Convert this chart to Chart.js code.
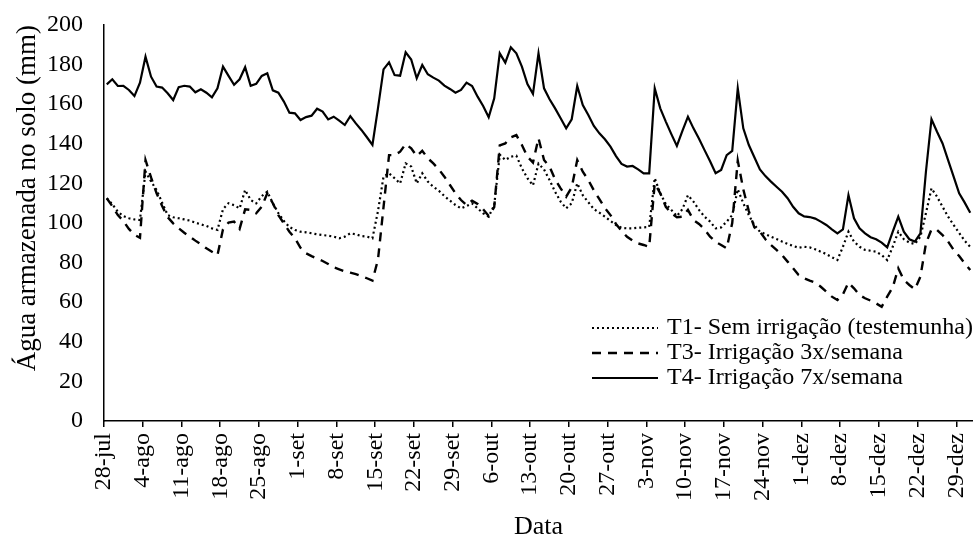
<!DOCTYPE html>
<html lang="pt">
<head>
<meta charset="utf-8">
<title>Água armazenada no solo</title>
<script src="https://cdn.jsdelivr.net/npm/chart.js@4.4.1/dist/chart.umd.min.js"></script>
<style>
  html, body { margin: 0; padding: 0; background: #fff; }
  #grafico { display: block; }
</style>
</head>
<body>
<canvas id="grafico" width="973" height="538"></canvas>
<script>
// Rótulos do eixo X (uma marca a cada 7 dias, começando em 28-jul)
const rotulosDatas = ["28-jul", "4-ago", "11-ago", "18-ago", "25-ago", "1-set", "8-set", "15-set",
  "22-set", "29-set", "6-out", "13-out", "20-out", "27-out", "3-nov", "10-nov", "17-nov",
  "24-nov", "1-dez", "8-dez", "15-dez", "22-dez", "29-dez"];

// Valores diários (mm), de 28-jul a 31-dez
const t1SemIrrigacao = [112.5, 109.5, 105.7, 103.5, 102.4, 101.8, 101.5, 126, 121, 116.7,
  110.3, 104, 102.9, 102.4, 101.8, 101.2, 100.2, 99.3, 98.5, 97.3,
  96.5, 107, 110, 109, 107.4, 116.7, 111.6, 109.9, 113.6, 115.8,
  110, 105, 101, 98, 96.5, 95.6, 95.3, 94.8, 94.3, 93.9,
  93.6, 93.1, 92.3, 93.1, 94.8, 94.3, 93.4, 93.1, 92.3, 106,
  123.4, 125.1, 122.6, 120, 130.1, 128.5, 120, 125.1, 120.9, 118.3,
  116.3, 113.6, 111.3, 109.1, 107.4, 108.6, 109.9, 107.4, 104.9, 103.2,
  109, 134.5, 131.8, 133.5, 134, 127.6, 122.6, 119, 130, 127,
  121.7, 115.8, 110.8, 107.4, 110, 120, 114, 110.5, 107, 105.2,
  103.2, 101, 99, 97.6, 97.3, 97.3, 97.6, 97.8, 98, 122.6,
  115, 109.6, 106.6, 103.5, 107, 114, 110.8, 106.6, 103.2, 100.7,
  97.3, 97.8, 100.7, 104, 117, 110, 104, 99, 95.6, 94.4,
  93.1, 91.9, 90.6, 89.4, 88.4, 87.5, 88, 87.7, 86.7, 85.5,
  84.3, 82.7, 81.3, 88, 95.6, 90.6, 88, 86.4, 86, 85.5,
  83.8, 81.3, 88, 95.6, 91.8, 90.1, 89.4, 93.1, 105, 117.5,
  113.3, 108.2, 103.2, 99, 95, 91, 88];

const t3Irrigacao3x = [112.5, 108.5, 104, 101, 97, 94, 92.5, 131.8, 123, 115,
  108.6, 103, 99.8, 97.3, 95.1, 93.1, 91.1, 89.2, 87.2, 85.5,
  83.8, 96.8, 100.2, 100.7, 97, 106.9, 106.6, 104.9, 108.2, 115,
  110, 104, 99.8, 95.6, 92.3, 87.5, 84.7, 83.3, 82, 80.8,
  79.3, 77.6, 76.6, 75.6, 74.9, 74.2, 73.2, 72.1, 70.9, 81.5,
  108, 134.3, 134.3, 136, 139.9, 137.7, 133.8, 136.5, 132.7, 130.1,
  127.1, 123.4, 119.2, 115, 111.6, 109.1, 111.3, 109.6, 106.9, 103.5,
  108, 139.2, 140.2, 143.3, 144.4, 139.4, 133.5, 130.5, 142.8, 131.8,
  128.5, 122.1, 117.5, 113.3, 118, 131.8, 125.9, 121.7, 116.5, 112,
  107.5, 104, 99.5, 96, 93, 91.1, 89.7, 88.9, 88, 120,
  115, 108.2, 104.9, 102.9, 103.2, 106.6, 101.5, 99.5, 96.8, 93.1,
  90.5, 88.9, 87.2, 100, 131.5, 117, 106, 97.8, 95.6, 91.8,
  88.9, 86.4, 83.8, 80.5, 77.1, 73.7, 72.1, 70.9, 69.9, 67.8,
  65.3, 62.8, 61.1, 64, 69.9, 67, 63.6, 62, 60.8, 59.4,
  57.7, 62.8, 67.5, 77.1, 71.2, 68.7, 66.5, 72.9, 89.7, 96.8,
  96.5, 93.9, 90.6, 86.4, 83.3, 79.6, 76.3];

const t4Irrigacao7x = [170, 172.6, 169.2, 169.3, 167.2, 164.1, 170.9, 184, 173.9, 168.9,
  168.4, 165.5, 162.1, 168.6, 169.3, 168.9, 166, 167.5, 165.8, 163.5,
  168, 179, 174.3, 169.8, 172.6, 178.7, 169.3, 170.3, 174.3, 175.6,
  167, 165.8, 161.3, 155.7, 155.4, 152, 153.5, 154.2, 157.7, 156.3,
  152.3, 153.7, 151.7, 149.5, 154, 150.3, 147, 143.3, 139.4, 158,
  177.6, 181.1, 174.7, 174.4, 186.2, 182.6, 173.1, 179.8, 175.1, 173.4,
  171.9, 169.4, 167.7, 165.8, 167.2, 170.9, 169.2, 163.8, 159.1, 153.4,
  163, 185.7, 181, 188.7, 185.7, 179, 170.2, 165.2, 185.7, 168,
  162.5, 157.9, 152.9, 147.8, 152.4, 169.2, 159.6, 154.5, 149, 145.3,
  142.3, 138.6, 133.8, 129.8, 128.5, 128.8, 127.1, 125.1, 125.1, 168,
  157.9, 151.2, 144.9, 138.9, 146.5, 153.7, 147.8, 142.5, 136.8, 131.2,
  125.2, 126.8, 134.3, 136.4, 168, 147.8, 139.4, 133.2, 127.1, 123.7,
  120.9, 118.3, 115.8, 112.5, 108.2, 104.9, 103.3, 103, 102.2, 100.7,
  99, 96.8, 94.8, 96.8, 114.1, 102.4, 97.3, 94.8, 92.8, 91.8,
  90.1, 87.7, 95.6, 103.2, 95.6, 91.8, 90.6, 94.8, 126, 152.4,
  146.1, 140.2, 131.8, 123.4, 115, 110.3, 105.2];

const totalDias = t1SemIrrigacao.length;
const fonte = '"Liberation Serif", "Times New Roman", serif';

Chart.defaults.font.family = fonte;
Chart.defaults.color = "#000";

// cada dia ocupa uma faixa; o ponto fica no meio dela (como no Excel)
const pontos = (serie) => serie.map((v, i) => ({ x: i + 0.5, y: v }));

// legenda desenhada dentro da área do gráfico
const legendaInterna = {
  id: "legendaInterna",
  afterDraw(chart) {
    const ctx = chart.ctx;
    ctx.save();
    chart.data.datasets.forEach((ds, i) => {
      const y = 328 + i * 25;
      ctx.strokeStyle = ds.borderColor;
      ctx.lineWidth = ds.borderWidth;
      ctx.lineCap = "butt";
      ctx.setLineDash(ds.borderDash || []);
      ctx.beginPath();
      ctx.moveTo(592, y);
      ctx.lineTo(658, y);
      ctx.stroke();
      ctx.setLineDash([]);
      ctx.fillStyle = "#000";
      ctx.font = "24px " + fonte;
      ctx.textBaseline = "middle";
      ctx.textAlign = "left";
      ctx.fillText(ds.label, 667, y);
    });
    ctx.restore();
  },
};

new Chart(document.getElementById("grafico"), {
  type: "line",
  data: {
    datasets: [
      {
        label: "T1- Sem irrigação (testemunha)",
        data: pontos(t1SemIrrigacao),
        borderColor: "#000",
        borderWidth: 2.2,
        borderDash: [2, 3],
      },
      {
        label: "T3- Irrigação 3x/semana",
        data: pontos(t3Irrigacao3x),
        borderColor: "#000",
        borderWidth: 2.4,
        borderDash: [9, 7],
      },
      {
        label: "T4- Irrigação 7x/semana",
        data: pontos(t4Irrigacao7x),
        borderColor: "#000",
        borderWidth: 2.2,
      },
    ],
  },
  options: {
    responsive: false,
    animation: false,
    devicePixelRatio: 1,
    layout: { padding: { top: 25, right: 0, bottom: 0, left: 0 } },
    elements: {
      point: { radius: 0 },
      line: { tension: 0, borderCapStyle: "butt" },
    },
    plugins: {
      legend: { display: false },
      tooltip: { enabled: false },
    },
    scales: {
      x: {
        type: "linear",
        min: 0,
        max: totalDias,
        afterBuildTicks: (eixo) => {
          eixo.ticks = rotulosDatas.map((_, i) => ({ value: i * 7 }));
        },
        afterFit: (eixo) => {
          eixo.height = 117;
          eixo.paddingLeft = 0;
          eixo.paddingRight = 0;
        },
        ticks: {
          autoSkip: false,
          minRotation: 90,
          maxRotation: 90,
          padding: 6,
          font: { size: 24 },
          callback: (valor) => rotulosDatas[Math.round(valor / 7)],
        },
        grid: {
          drawOnChartArea: false,
          drawTicks: true,
          tickLength: 6,
          color: "#000",
          lineWidth: 1.5,
        },
        border: { display: true, color: "#000", width: 1.5 },
        title: {
          display: true,
          text: "Data",
          font: { size: 26, lineHeight: 0.85 },
          padding: { top: 0, bottom: 0 },
        },
      },
      y: {
        min: 0,
        max: 200,
        afterFit: (eixo) => {
          eixo.width = 104;
          eixo.paddingTop = 0;
          eixo.paddingBottom = 0;
        },
        ticks: {
          stepSize: 20,
          padding: 21,
          font: { size: 24 },
        },
        grid: { drawOnChartArea: false, drawTicks: false },
        border: { display: true, color: "#000", width: 1.5 },
        title: {
          display: true,
          text: "Água armazenada no solo (mm)",
          align: "end",
          font: { size: 27 },
          padding: { top: 12, bottom: 0 },
        },
      },
    },
  },
  plugins: [legendaInterna],
});
</script>
</body>
</html>
